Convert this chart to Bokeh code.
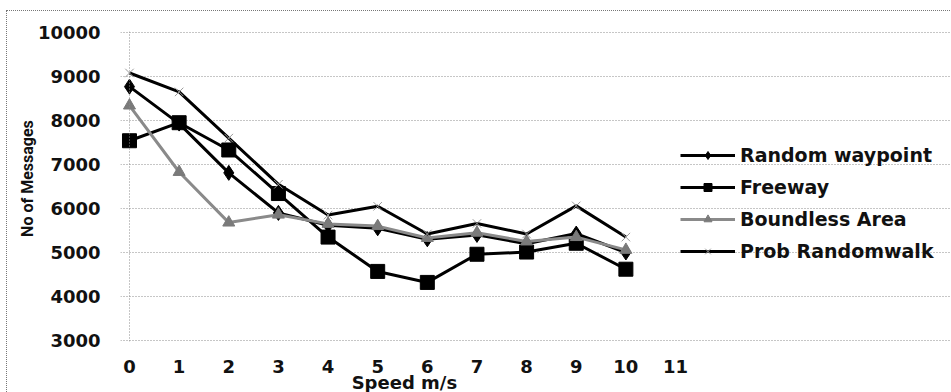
from bokeh.plotting import figure
from bokeh.models import Range1d, FixedTicker, Span, Legend, LegendItem
from bokeh.embed import file_html
from bokeh.resources import INLINE

# Number of messages versus node speed for four mobility models
speeds = [0, 1, 2, 3, 4, 5, 6, 7, 8, 9, 10]
random_waypoint = [8770, 7930, 6810, 5900, 5620, 5550, 5300, 5400, 5200, 5430, 5000]
freeway = [7540, 7950, 7330, 6340, 5350, 4570, 4320, 4960, 5010, 5210, 4620]
boundless_area = [8340, 6830, 5680, 5860, 5650, 5600, 5330, 5450, 5250, 5350, 5060]
prob_randomwalk = [9080, 8650, 7600, 6550, 5850, 6050, 5420, 5660, 5420, 6060, 5350]

series_names = ["Random waypoint", "Freeway", "Boundless Area", "Prob Randomwalk"]
x_ticks = list(range(0, 12))
y_ticks = list(range(3000, 10001, 1000))

TICK_FONT = "DejaVu Sans"
GRID = "#8c8c8c"
NBSP = "\u00a0"

# the frame runs to the right edge so the legend can sit inside it;
# gridlines are bounded to the 0..11 axis extent
X_START, X_AXIS_END, X_END = -0.1813, 11, 16.56

p = figure(
    width=944, height=388,
    x_range=Range1d(X_START, X_END),
    y_range=Range1d(2977, 10023),
    output_backend="svg", toolbar_location=None,
    min_border_left=113, min_border_right=0,
    min_border_top=20, min_border_bottom=58,
    margin=(10, 0, 0, 6),
    styles={"border-top": "1px dotted #777", "border-left": "1px dotted #777"},
)
p.outline_line_color = None
p.background_fill_color = "white"
p.border_fill_color = "white"

# axes
p.xaxis.ticker = FixedTicker(ticks=x_ticks)
p.yaxis.ticker = FixedTicker(ticks=y_ticks)
for ax in (p.xaxis[0], p.yaxis[0]):
    ax.axis_line_color = None
    ax.major_tick_line_color = None
    ax.minor_tick_line_color = None
    ax.major_tick_out = 0
    ax.major_tick_in = 0
    ax.major_label_text_font = TICK_FONT
    ax.major_label_text_font_style = "bold"
    ax.major_label_text_font_size = "18px"
    ax.major_label_text_color = "#111111"
    ax.axis_label_text_color = "#111111"
    ax.axis_label_text_font_style = "bold"

# trailing no-break spaces shift the centred title left, under the 0..11 span
p.xaxis.major_label_standoff = 18
p.xaxis.axis_label = "Speed m/s" + NBSP * 42
p.xaxis.axis_label_text_font = "DejaVu Sans"
p.xaxis.axis_label_text_font_size = "18px"
p.xaxis.axis_label_standoff = -4

p.yaxis.major_label_standoff = 20
p.yaxis.axis_label = NBSP * 4 + "No of Messages"
p.yaxis.axis_label_text_font = "Roboto"
p.yaxis.axis_label_text_font_size = "16px"
p.yaxis.axis_label_standoff = -2

# dotted gridlines
p.xgrid.visible = False
p.ygrid.ticker = FixedTicker(ticks=y_ticks)
p.ygrid.bounds = (X_START, X_AXIS_END)
p.ygrid.grid_line_color = GRID
p.ygrid.grid_line_dash = "1 2"
p.ygrid.grid_line_width = 1

p.add_layout(Span(location=0, dimension="height", line_color=GRID,
                  line_dash="1 2", line_width=1))

# series
styles = [
    (random_waypoint, "#000000", "diamond", 15, "#000000"),
    (freeway, "#000000", "square", 14, "#000000"),
    (boundless_area, "#8a8a8a", "triangle", 12, "#7a7a7a"),
    (prob_randomwalk, "#000000", "x", 12, "#9a9a9a"),
]

items = []
for name, (vals, lc, marker, size, mc) in zip(series_names, styles):
    ln = p.line(speeds, vals, line_color=lc, line_width=3)
    if marker == "x":
        mk = p.scatter(speeds, vals, marker=marker, size=size,
                       line_color=mc, line_width=1)
    else:
        mk = p.scatter(speeds, vals, marker=marker, size=size,
                       fill_color=mc, line_color=mc)
    items.append(LegendItem(label=name, renderers=[ln, mk]))

legend = Legend(
    items=items,
    location=(560, 79),
    orientation="vertical",
    glyph_width=55, glyph_height=20,
    label_height=20, label_standoff=5,
    spacing=10, padding=0, margin=0,
    border_line_color=None, background_fill_alpha=0,
    label_text_font="DejaVu Sans", label_text_font_style="bold",
    label_text_font_size="19px", label_text_color="#111111",
)
p.add_layout(legend, "center")

open("out.html", "w").write(file_html(p, INLINE))
